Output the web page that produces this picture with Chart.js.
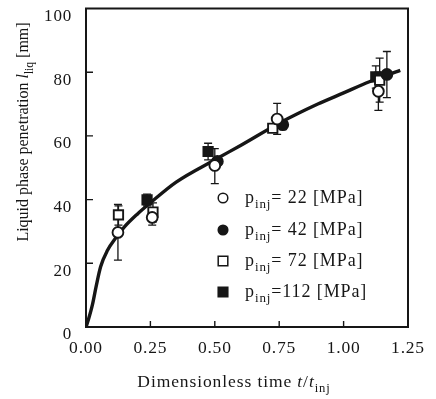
<!DOCTYPE html>
<html>
<head>
<meta charset="utf-8">
<script src="https://cdn.jsdelivr.net/npm/chart.js@4.4.0/dist/chart.umd.min.js"></script>
<style>
  html, body { margin: 0; padding: 0; background: #ffffff; }
  #wrap { width: 436px; height: 399px; }
</style>
</head>
<body>
<div id="wrap"><canvas id="c" width="436" height="399"></canvas></div>
<script>
// ---- data ----
const xTicks = [0, 0.25, 0.5, 0.75, 1.0, 1.25];
const yTicks = [0, 20, 40, 60, 80, 100];

// fitted curve
const curveT = [0, 0.01, 0.025, 0.04, 0.057, 0.083, 0.116, 0.15, 0.2, 0.25, 0.35, 0.5, 0.6, 0.75, 0.9, 1.0, 1.1, 1.22];
const curveL = [0, 2.5, 7, 13, 19, 24, 28, 31.5, 35.5, 39, 45.5, 52.5, 57, 64, 70, 73.5, 77, 80.6];

// p_inj = 22 MPa (open circles)
const p22T = [0.124, 0.257, 0.50, 0.742, 1.135];
const p22L = [29.7, 34.4, 50.7, 65.3, 74.0];
const p22Lo = [21, 32, 45, 60.5, 68];
const p22Hi = [38.5, 37, 56, 70.2, 80];

// p_inj = 42 MPa (filled circles)
const p42T = [0.51, 0.764, 1.168];
const p42L = [52.0, 63.5, 79.3];
const p42Lo = [null, 62, 72];
const p42Hi = [null, 65, 86.5];

// p_inj = 72 MPa (open squares)
const p72T = [0.126, 0.26, 0.725, 1.14];
const p72L = [35.2, 36.1, 62.4, 77.5];
const p72Lo = [32, 33, null, 70.6];
const p72Hi = [38, 39, null, 84.4];

// p_inj = 112 MPa (filled squares)
const p112T = [0.237, 0.474, 1.125];
const p112L = [39.9, 55.1, 78.5];
const p112Lo = [38, 52.5, 75];
const p112Hi = [41.7, 57.7, 82];

const legendLabels = ['= 22 [MPa]', '= 42 [MPa]', '= 72 [MPa]', '=112 [MPa]'];

// ---- helpers ----
const INK = '#161616';
const SERIF = '"Liberation Serif", "DejaVu Serif", serif';
const pts = (xs, ys) => xs.map((x, i) => ({ x: x, y: ys[i] }));

function richWidth(ctx, parts, size) {
  let w = 0;
  parts.forEach(p => {
    const s = p.sub ? size * 0.72 : size;
    ctx.font = (p.italic ? 'italic ' : '') + s + 'px ' + SERIF;
    w += ctx.measureText(p.t).width;
  });
  return w;
}
function drawRich(ctx, parts, x, y, size) {
  let cx = x;
  parts.forEach(p => {
    const s = p.sub ? size * 0.72 : size;
    ctx.font = (p.italic ? 'italic ' : '') + s + 'px ' + SERIF;
    ctx.fillText(p.t, cx, p.sub ? y + size * 0.3 : y);
    cx += ctx.measureText(p.t).width;
  });
}

const seriesDefs = [
  { T: p22T, L: p22L, lo: p22Lo, hi: p22Hi, style: 'circle', fill: '#ffffff', r: 5.4 },
  { T: p42T, L: p42L, lo: p42Lo, hi: p42Hi, style: 'circle', fill: INK, r: 5.4 },
  { T: p72T, L: p72L, lo: p72Lo, hi: p72Hi, style: 'rect', fill: '#ffffff', r: 6.6 },
  { T: p112T, L: p112L, lo: p112Lo, hi: p112Hi, style: 'rect', fill: INK, r: 6.6 }
];

const datasets = [];
seriesDefs.forEach((s, i) => {
  datasets.push({
    type: 'scatter',
    label: 'p' + i,
    data: pts(s.T, s.L),
    pointStyle: s.style,
    pointRadius: s.r,
    pointHoverRadius: s.r,
    backgroundColor: s.fill,
    borderColor: INK,
    borderWidth: 1.9,
    order: i + 1
  });
});
datasets.push({
  type: 'line',
  label: 'fit',
  data: pts(curveT, curveL),
  borderColor: INK,
  borderWidth: 3.4,
  pointRadius: 0,
  cubicInterpolationMode: 'monotone',
  fill: false,
  order: 10
});

const spacing = {
  id: 'spacing',
  beforeLayout(chart) { chart.ctx.letterSpacing = '0.8px'; },
  beforeDraw(chart) { chart.ctx.letterSpacing = '0.8px'; }
};

const decor = {
  id: 'decor',
  beforeDatasetsDraw(chart) {
    const ctx = chart.ctx, xs = chart.scales.x, ys = chart.scales.y;
    ctx.save();
    ctx.strokeStyle = INK;
    ctx.lineWidth = 1.3;
    seriesDefs.forEach(s => {
      s.T.forEach((t, i) => {
        if (s.lo[i] == null) return;
        const px = xs.getPixelForValue(t);
        const a = ys.getPixelForValue(s.lo[i]);
        const b = ys.getPixelForValue(s.hi[i]);
        ctx.beginPath();
        ctx.moveTo(px, a); ctx.lineTo(px, b);
        ctx.moveTo(px - 4, a); ctx.lineTo(px + 4, a);
        ctx.moveTo(px - 4, b); ctx.lineTo(px + 4, b);
        ctx.stroke();
      });
    });
    ctx.restore();
  },
  afterDraw(chart) {
    const ctx = chart.ctx, a = chart.chartArea, xs = chart.scales.x, ys = chart.scales.y;
    ctx.save();
    // frame
    ctx.strokeStyle = INK;
    ctx.lineWidth = 2;
    ctx.strokeRect(a.left, a.top, a.right - a.left, a.bottom - a.top);
    // inward ticks
    ctx.lineWidth = 1.4;
    ctx.beginPath();
    yTicks.slice(1, -1).forEach(v => {
      const py = ys.getPixelForValue(v);
      ctx.moveTo(a.left, py); ctx.lineTo(a.left + 7, py);
    });
    xTicks.slice(1, -1).forEach(v => {
      const px = xs.getPixelForValue(v);
      ctx.moveTo(px, a.bottom); ctx.lineTo(px, a.bottom - 6);
    });
    ctx.stroke();

    ctx.fillStyle = INK;
    ctx.textBaseline = 'alphabetic';
    ctx.textAlign = 'left';
    // x title
    ctx.letterSpacing = '0.9px';
    const xParts = [{ t: 'Dimensionless time ' }, { t: 't', italic: true }, { t: '/' }, { t: 't', italic: true }, { t: 'inj', sub: true }];
    const xw = richWidth(ctx, xParts, 17.5);
    drawRich(ctx, xParts, 234 - xw / 2, 387, 17.5);
    // y title
    ctx.letterSpacing = '0px';
    const yParts = [{ t: 'Liquid phase penetration ' }, { t: 'l', italic: true }, { t: 'liq', sub: true }, { t: ' [mm]' }];
    const yw = richWidth(ctx, yParts, 16);
    ctx.save();
    ctx.translate(28, 132);
    ctx.rotate(-Math.PI / 2);
    drawRich(ctx, yParts, -yw / 2, 0, 16);
    ctx.restore();

    // legend
    ctx.letterSpacing = '0.9px';
    const rows = [198, 230, 261, 292];
    seriesDefs.forEach((s, i) => {
      const cy = rows[i], cx = 223;
      ctx.beginPath();
      if (s.style === 'circle') {
        ctx.arc(cx, cy, 4.8, 0, Math.PI * 2);
      } else {
        ctx.rect(cx - 4.8, cy - 4.8, 9.6, 9.6);
      }
      ctx.fillStyle = s.fill;
      ctx.fill();
      ctx.lineWidth = 1.5;
      ctx.strokeStyle = INK;
      ctx.stroke();
      ctx.fillStyle = INK;
      drawRich(ctx, [{ t: 'p' }, { t: 'inj', sub: true }, { t: legendLabels[i] }], 245, cy + 5, 18);
    });
    ctx.restore();
  }
};

new Chart(document.getElementById('c'), {
  data: { datasets: datasets },
  options: {
    responsive: false,
    animation: false,
    devicePixelRatio: 1,
    layout: { padding: { top: 6, right: 28, left: 0, bottom: 0 } },
    plugins: { legend: { display: false }, tooltip: { enabled: false } },
    scales: {
      x: {
        type: 'linear', min: 0, max: 1.25,
        afterBuildTicks: s => { s.ticks = xTicks.map(v => ({ value: v })); },
        ticks: {
          callback: v => Number(v).toFixed(2),
          font: { family: SERIF, size: 17.5 }, color: INK, padding: 11, maxRotation: 0, autoSkip: false
        },
        grid: { display: false, drawTicks: false },
        border: { display: false },
        afterFit: s => { s.height = 72; s.paddingLeft = 0; s.paddingRight = 0; }
      },
      y: {
        type: 'linear', min: 0, max: 100,
        afterBuildTicks: s => { s.ticks = yTicks.map(v => ({ value: v })); },
        ticks: {
          font: { family: SERIF, size: 17 }, color: INK, padding: 14, labelOffset: 8
        },
        grid: { display: false, drawTicks: false },
        border: { display: false },
        afterFit: s => { s.width = 86; s.paddingTop = 0; s.paddingBottom = 0; }
      }
    }
  },
  plugins: [spacing, decor]
});
</script>
</body>
</html>
